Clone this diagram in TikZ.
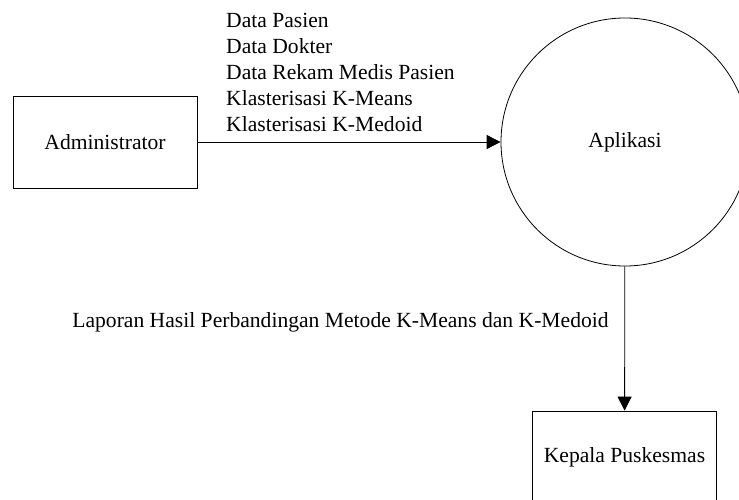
\documentclass[tikz,border=0pt]{standalone}
\usepackage{fontspec}
\setmainfont{Liberation Serif}
\usetikzlibrary{arrows.meta}

\begin{document}
\begin{tikzpicture}[x=1pt,y=-1pt,
    every node/.style={font=\fontsize{21.6}{26}\selectfont},
    entitas/.style={draw,line width=0.8pt,minimum width=184pt,minimum height=92pt,inner sep=0pt},
    proses/.style={draw,line width=0.8pt,circle,minimum size=248pt,inner sep=0pt},
    alir/.style={line width=0.8pt,-{Triangle[length=14pt,width=14pt]}}]

\useasboundingbox (0,0) rectangle (739,500);
\clip (0,0) rectangle (739,500);

\node[entitas] (admin) at (105,142) {Administrator};
\node[proses] (aplikasi) at (625,142) {Aplikasi};
\node[entitas] (kepala) at (624.5,457) {Kepala Puskesmas};

\draw[alir] (admin) -- (aplikasi);   %data masuk
\draw[alir] (aplikasi) -- (kepala);  %laporan

\node[anchor=north west,align=left,inner sep=0pt] (datamasuk) at (226,13)
    {Data Pasien\\Data Dokter\\Data Rekam Medis Pasien\\Klasterisasi K-Means\\Klasterisasi K-Medoid};
\node[inner sep=0pt] (laporan) at (340.5,322)
    {Laporan Hasil Perbandingan Metode K-Means dan K-Medoid};

\end{tikzpicture}
\end{document}
